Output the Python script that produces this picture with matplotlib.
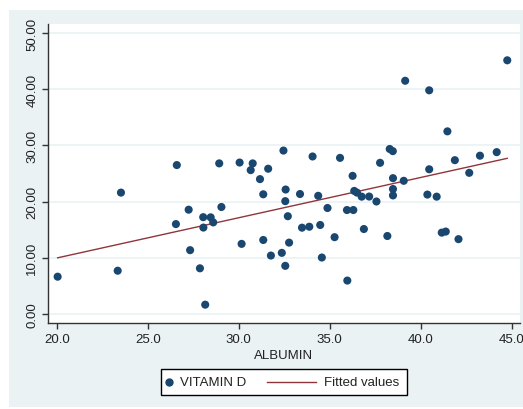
"""
Scatter of VITAMIN D against ALBUMIN with the fitted regression line,
in the Stata s2color look.
"""

import matplotlib.pyplot as plt
from matplotlib.lines import Line2D
from matplotlib.patches import Rectangle

OUTPUT_PATH = "out.png"

albumin = [
    20.05, 23.35, 23.53, 26.60, 26.55, 27.25, 27.33, 27.87, 28.05, 28.06,
    28.16, 28.46, 28.60, 29.05, 28.93, 30.05, 30.16, 30.77, 30.66, 31.17,
    31.62, 31.35, 31.35, 31.77, 32.37, 32.56, 32.46, 32.58, 32.56, 32.70,
    32.77, 33.37, 33.48, 33.88, 34.06, 34.37, 34.48, 34.57, 34.88, 35.27,
    35.57, 35.97, 35.95, 36.30, 36.26, 36.35, 36.50, 36.76, 36.88, 37.17,
    37.57, 37.77, 38.17, 38.30, 38.47, 38.48, 38.48, 38.48, 39.07, 39.15,
    40.37, 40.47, 40.47, 40.88, 41.16, 41.38, 41.47, 41.88, 42.08, 42.67,
    43.26, 44.18, 44.76,
]
vitamin_d = [
    6.64, 7.70, 21.60, 26.50, 16.00, 18.56, 11.36, 8.13, 17.23, 15.38,
    1.66, 17.20, 16.30, 19.04, 26.80, 26.95, 12.48, 26.80, 25.60, 24.00,
    25.85, 21.30, 13.17, 10.40, 10.88, 8.57, 29.08, 22.15, 20.08, 17.40,
    12.70, 21.35, 15.36, 15.53, 28.03, 21.03, 15.84, 10.05, 18.86, 13.67,
    27.78, 5.95, 18.50, 18.50, 24.58, 21.90, 21.60, 20.88, 15.12, 20.90,
    20.02, 26.90, 13.88, 29.36, 28.98, 24.17, 22.24, 21.10, 23.70, 41.50,
    21.25, 25.75, 39.80, 20.88, 14.48, 14.67, 32.50, 27.37, 13.32, 25.12,
    28.17, 28.80, 45.14,
]

# fitted values line, read at both ends of the data range
fit_x = [20.05, 44.76]
fit_y = [10.0, 27.7]

x_ticks = [20, 25, 30, 35, 40, 45]
y_ticks = [0, 10, 20, 30, 40, 50]

NAVY = "#1A476F"
MAROON = "#90353B"
BG = "#EAF2F3"
W, H = 523, 410


def px(x, y):
    # pixel position (from top-left) -> figure fraction
    return x / W, 1 - y / H


def main():
    plt.rcParams["font.family"] = ["Liberation Sans", "DejaVu Sans"]

    fig = plt.figure(figsize=(W / 100, H / 100), dpi=100, facecolor="white")
    # light bluish graph region
    fig.patches.append(Rectangle(px(9, 408), (W - 9) / W, (408 - 11) / H,
                                 transform=fig.transFigure, facecolor=BG,
                                 edgecolor="none", zorder=-10))

    ax = fig.add_axes([48 / W, 1 - 324 / H, (520 - 48) / W, (324 - 25) / H])
    ax.set_facecolor("white")

    ax.scatter(albumin, vitamin_d, s=34, color=NAVY, edgecolors="none", zorder=3)
    ax.plot(fit_x, fit_y, color=MAROON, lw=1.0, zorder=2)

    ax.set_xlim(19.52, 45.46)
    ax.set_ylim(-1.6, 51.6)
    ax.set_xticks(x_ticks)
    ax.set_xticklabels([f"{t:.1f}" for t in x_ticks])
    ax.set_yticks(y_ticks)
    ax.set_yticklabels([f"{t:.2f}" for t in y_ticks], rotation=90, va="center")

    ax.grid(axis="y", color=BG, lw=1.2, zorder=0)
    ax.set_axisbelow(True)
    for side in ("top", "right"):
        ax.spines[side].set_visible(False)
    for side in ("left", "bottom"):
        ax.spines[side].set_color("#333333")
        ax.spines[side].set_linewidth(1.0)
    ax.tick_params(direction="out", length=4, width=1, color="#333333",
                   labelsize=9.5, labelcolor="#222222", pad=3)

    ax.set_xlabel("ALBUMIN", fontsize=9.5, color="#222222", labelpad=3)

    # --- legend box, drawn by hand to match Stata's spacing ---
    fig.patches.append(Rectangle(px(161, 396), (407 - 161) / W, (396 - 370) / H,
                                 transform=fig.transFigure, facecolor="white",
                                 edgecolor="black", lw=1.0, zorder=5))
    ly = 1 - 383 / H
    fig.add_artist(Line2D([169 / W], [ly], marker="o", ms=6, color=NAVY,
                          mec="none", ls="none", transform=fig.transFigure,
                          zorder=6))
    fig.text(180 / W, ly, "VITAMIN D", fontsize=9.5, va="center", ha="left",
             color="#222222", zorder=6)
    fig.add_artist(Line2D([266.5 / W, 316 / W], [ly, ly], color=MAROON, lw=1.0,
                          transform=fig.transFigure, zorder=6))
    fig.text(324 / W, ly, "Fitted values", fontsize=9.5, va="center", ha="left",
             color="#222222", zorder=6)

    fig.savefig(OUTPUT_PATH, dpi=100)
    plt.close(fig)


if __name__ == "__main__":
    main()
